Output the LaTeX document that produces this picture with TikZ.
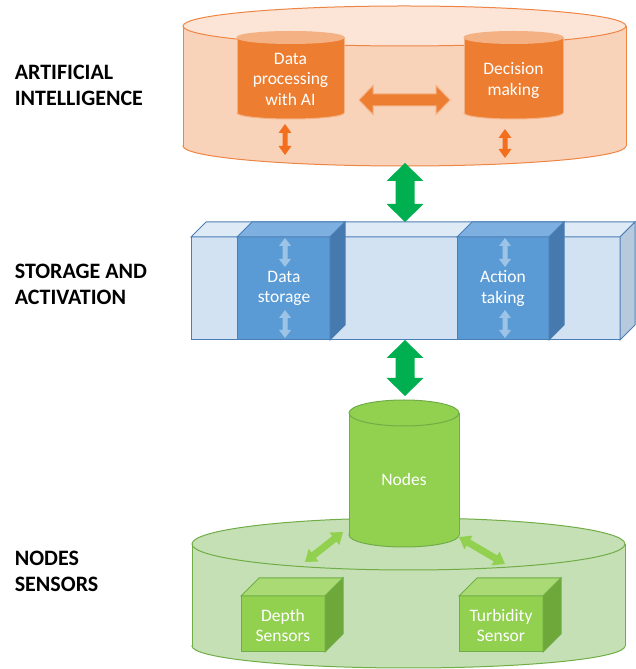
\documentclass[tikz,border=0pt]{standalone}
\usepackage{fontspec}
\setmainfont{Carlito}
\usetikzlibrary{calc}

\definecolor{orStroke}{HTML}{EE8545}
\definecolor{orTop}{HTML}{FCE5D7}
\definecolor{orBody}{HTML}{F9D3B9}
\definecolor{orDark}{HTML}{ED7D31}
\definecolor{orLight}{HTML}{F4B183}
\definecolor{orArrow}{HTML}{F36F1E}
\definecolor{blFront}{HTML}{D2E2F2}
\definecolor{blTop}{HTML}{DEEBF7}
\definecolor{blSide}{HTML}{B7C9DD}
\definecolor{blStroke}{HTML}{4A7EB5}
\definecolor{blBox}{HTML}{5B9BD5}
\definecolor{blBoxTop}{HTML}{7DAFE0}
\definecolor{blBoxSide}{HTML}{4679AE}
\definecolor{blArrow}{HTML}{9DC3E6}
\definecolor{gnBase}{HTML}{C5E0B4}
\definecolor{gnStroke}{HTML}{70AD47}
\definecolor{gnNode}{HTML}{92D050}
\definecolor{gnTop}{HTML}{A9DA74}
\definecolor{gnSide}{HTML}{6EA83B}
\definecolor{gnArrow}{HTML}{00B050}

% cylinder: cx, rx, ytop, ry top, ybottom, ry bottom, body, top, stroke
\newcommand\drawcyl[9]{%
  \filldraw[fill=#7, draw=#9] (#1,#5) ellipse [x radius=#2, y radius=#6];
  \fill[#7] ({#1-#2},#5) rectangle ({#1+#2},#3);
  \draw[#9] ({#1-#2},#5) -- ({#1-#2},#3) ({#1+#2},#5) -- ({#1+#2},#3);
  \filldraw[fill=#8, draw=#9] (#1,#3) ellipse [x radius=#2, y radius=#4];
}
% box: x left, x right, y bottom, y top, depth, front, top, side, stroke
\newcommand\drawbox[9]{%
  \filldraw[fill=#6, draw=#9] (#1,#3) rectangle (#2,#4);
  \filldraw[fill=#7, draw=#9] (#1,#4) -- (#2,#4) -- ({#2+#5},{#4+#5}) -- ({#1+#5},{#4+#5}) -- cycle;
  \filldraw[fill=#8, draw=#9] (#2,#4) -- (#2,#3) -- ({#2+#5},{#3+#5}) -- ({#2+#5},{#4+#5}) -- cycle;
}
% block double arrow between two named points:
% tip a, tip b, half head width, half shaft width, head length, style
\newcommand\dblarrow[6]{%
  \coordinate (da1) at ($(#1)!#5!(#2)$);
  \coordinate (da2) at ($(#2)!#5!(#1)$);
  \filldraw[#6] (#1) -- ($(da1)!#3!90:(#2)$) -- ($(da1)!#4!90:(#2)$)
    -- ($(da2)!#4!-90:(#1)$) -- ($(da2)!#3!-90:(#1)$) -- (#2)
    -- ($(da2)!#3!90:(#1)$) -- ($(da2)!#4!90:(#1)$)
    -- ($(da1)!#4!-90:(#2)$) -- ($(da1)!#3!-90:(#2)$) -- cycle;
}

\begin{document}
\begin{tikzpicture}[x=1pt, y=1pt, line width=1pt,
  layerlabel/.style={anchor=west, align=left, font=\fontsize{22}{26}\selectfont\bfseries},
  inlabel/.style={align=center, text=white, font=\fontsize{17.5}{20.5}\selectfont},
  bigarrow/.style={fill=gnArrow, draw=none},
  oarrow/.style={fill=orDark, draw=orLight, line width=1pt},
  smallorange/.style={fill=orArrow, draw=none},
  lightblue/.style={fill=blArrow, draw=none},
  leafarrow/.style={fill=gnNode, draw=none}]
\useasboundingbox (0,0) rectangle (636,669);

% ---------- artificial intelligence layer ----------
\drawcyl{404.5}{221.5}{643}{20}{523}{20}{orBody}{orTop}{orStroke}
\drawcyl{290.5}{53.5}{631.5}{6}{556}{6}{orDark}{orLight}{orLight}
\drawcyl{513.5}{49.5}{631.5}{6}{556}{6}{orDark}{orLight}{orLight}
\node[inlabel] (dp) at (290.5,590) {Data\\processing\\with AI};
\node[inlabel] (dm) at (513.5,588.5) {Decision\\making};

\coordinate (hA) at (359,569);
\coordinate (hB) at (450,569);
\dblarrow{hA}{hB}{14.5pt}{6pt}{14pt}{oarrow}

\coordinate (oL1) at (285,545);
\coordinate (oL2) at (285,514);
\dblarrow{oL1}{oL2}{6.5pt}{2.5pt}{9pt}{smallorange}
\coordinate (oR1) at (505,540);
\coordinate (oR2) at (505,511);
\dblarrow{oR1}{oR2}{6.5pt}{2.5pt}{9pt}{smallorange}

% ---------- storage and activation layer ----------
\drawbox{191}{620}{329}{432}{15}{blFront}{blTop}{blSide}{blStroke}
\drawbox{237}{330}{329}{432}{15}{blBox}{blBoxTop}{blBoxSide}{blStroke}
\drawbox{457}{549}{329}{432}{15}{blBox}{blBoxTop}{blBoxSide}{blStroke}
\node[inlabel] (ds) at (284,380.5) {Data\\storage};
\node[inlabel] (at) at (503,380.5) {Action\\taking};

\coordinate (bA1) at (285,431);
\coordinate (bA2) at (285,402);
\dblarrow{bA1}{bA2}{6pt}{2.5pt}{8pt}{lightblue}
\coordinate (bA3) at (285,359);
\coordinate (bA4) at (285,331);
\dblarrow{bA3}{bA4}{6pt}{2.5pt}{8pt}{lightblue}
\coordinate (bB1) at (505,431);
\coordinate (bB2) at (505,402);
\dblarrow{bB1}{bB2}{6pt}{2.5pt}{8pt}{lightblue}
\coordinate (bB3) at (505,359);
\coordinate (bB4) at (505,331);
\dblarrow{bB3}{bB4}{6pt}{2.5pt}{8pt}{lightblue}

% ---------- links between layers ----------
\coordinate (g1) at (405,506);
\coordinate (g2) at (405,447);
\dblarrow{g1}{g2}{18.5pt}{9.5pt}{18pt}{bigarrow}
\coordinate (g3) at (405,329);
\coordinate (g4) at (405,273);
\dblarrow{g3}{g4}{18.5pt}{9.5pt}{18pt}{bigarrow}

% ---------- nodes and sensors layer ----------
\drawcyl{408.5}{216.5}{125}{26}{23}{22}{gnBase}{gnBase}{gnStroke}
\drawcyl{404}{55}{256}{13}{134}{12}{gnNode}{gnNode}{gnStroke}
\node[inlabel] (nodes) at (404,190) {Nodes};

\drawbox{241}{325}{17}{73}{18}{gnNode}{gnTop}{gnSide}{gnStroke}
\drawbox{459}{543}{17}{73}{18}{gnNode}{gnTop}{gnSide}{gnStroke}
\node[inlabel] (depth) at (283,43.5) {Depth\\Sensors};
\node[inlabel] (turb) at (501,43.5) {Turbidity\\Sensor};

\coordinate (lA) at (305,107);
\coordinate (lB) at (343,137);
\dblarrow{lA}{lB}{8pt}{3.5pt}{11pt}{leafarrow}
\coordinate (rA) at (459,132);
\coordinate (rB) at (505,105);
\dblarrow{rA}{rB}{8pt}{3.5pt}{11pt}{leafarrow}

% ---------- layer names ----------
\node[layerlabel] (ai) at (11,584) {ARTIFICIAL\\INTELLIGENCE};
\node[layerlabel] (sa) at (11,385) {STORAGE AND\\ACTIVATION};
\node[layerlabel] (ns) at (11,98) {NODES\\SENSORS};
\end{tikzpicture}
\end{document}
